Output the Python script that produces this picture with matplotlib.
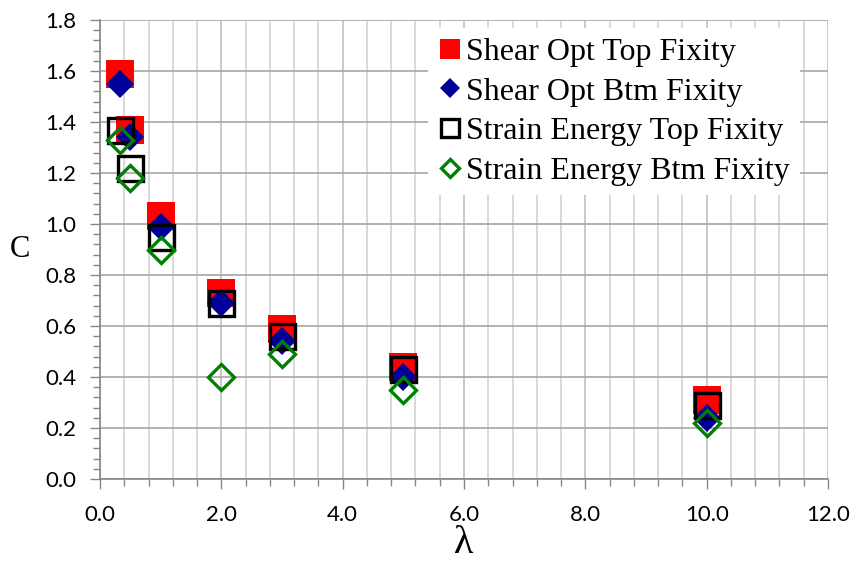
import numpy as np
import matplotlib.pyplot as plt
from matplotlib.ticker import MultipleLocator, FormatStrFormatter

# lambda values
lam = [0.33, 0.5, 1.0, 2.0, 3.0, 5.0, 10.0]

shear_top = [1.59, 1.37, 1.03, 0.73, 0.59, 0.44, 0.31]
shear_btm = [1.55, 1.34, 0.99, 0.69, 0.54, 0.40, 0.24]
strain_top = [1.37, 1.22, 0.95, 0.69, 0.56, 0.43, 0.29]
strain_btm = [1.33, 1.18, 0.90, 0.40, 0.49, 0.35, 0.22]

fig = plt.figure(figsize=(8.54, 5.61), dpi=100)
ax = fig.add_axes([100 / 854, 1 - 479 / 561, 728 / 854, 459 / 561])

ax.plot(lam, shear_top, 's', color='#FF0000', ms=19.5, mew=0, ls='none',
        label='Shear Opt Top Fixity', zorder=3)
ax.plot(lam, shear_btm, 'D', color='#000099', ms=14, mew=0, ls='none',
        label='Shear Opt Btm Fixity', zorder=4)
ax.plot(lam, strain_top, 's', mfc='none', mec='black', ms=18, mew=2.4, ls='none',
        label='Strain Energy Top Fixity', zorder=5)
ax.plot(lam, strain_btm, 'D', mfc='none', mec='#008000', ms=13, mew=2.4, ls='none',
        label='Strain Energy Btm Fixity', zorder=6)

ax.set_xlim(0, 12)
ax.set_ylim(0, 1.8)
ax.xaxis.set_major_locator(MultipleLocator(2))
ax.xaxis.set_minor_locator(MultipleLocator(0.4))
ax.yaxis.set_major_locator(MultipleLocator(0.2))
ax.yaxis.set_minor_locator(MultipleLocator(0.04))
ax.xaxis.set_major_formatter(FormatStrFormatter('%.1f'))
ax.yaxis.set_major_formatter(FormatStrFormatter('%.1f'))

ax.grid(which='major', axis='y', color='#A6A6A6', lw=1.2, zorder=0)
ax.grid(which='major', axis='x', color='#C0C0C0', lw=1.2, zorder=0)
ax.grid(which='minor', axis='x', color='#D3D3D3', lw=1.2, zorder=0)
ax.set_axisbelow(True)

for s in ['top', 'right']:
    ax.spines[s].set_visible(False)
for s in ['left', 'bottom']:
    ax.spines[s].set_color('#868686')
    ax.spines[s].set_linewidth(1.2)

ax.tick_params(which='both', color='#868686', labelsize=16, width=1)
ax.tick_params(which='major', length=7)
ax.tick_params(which='minor', length=5)
ax.tick_params(axis='x', which='major', pad=12)
ax.tick_params(axis='y', which='major', pad=10)
for lb in ax.get_xticklabels() + ax.get_yticklabels():
    lb.set_family('Lato')

ax.set_xlabel('λ', family='Liberation Serif', fontsize=29, labelpad=0)
ax.set_ylabel('C', family='Liberation Serif', fontsize=22, rotation=0,
              va='center', labelpad=18)

leg = ax.legend(loc='upper left', bbox_to_anchor=(428 / 854, 1 - 28 / 561),
                bbox_transform=fig.transFigure,
                prop={'family': 'Liberation Serif', 'size': 23},
                frameon=True, fancybox=False, edgecolor='none', facecolor='white',
                framealpha=1, handletextpad=0.15, borderaxespad=0, borderpad=0.3,
                labelspacing=0.32, markerscale=0.72, handlelength=0.75)

fig.savefig('out.png', dpi=100)
